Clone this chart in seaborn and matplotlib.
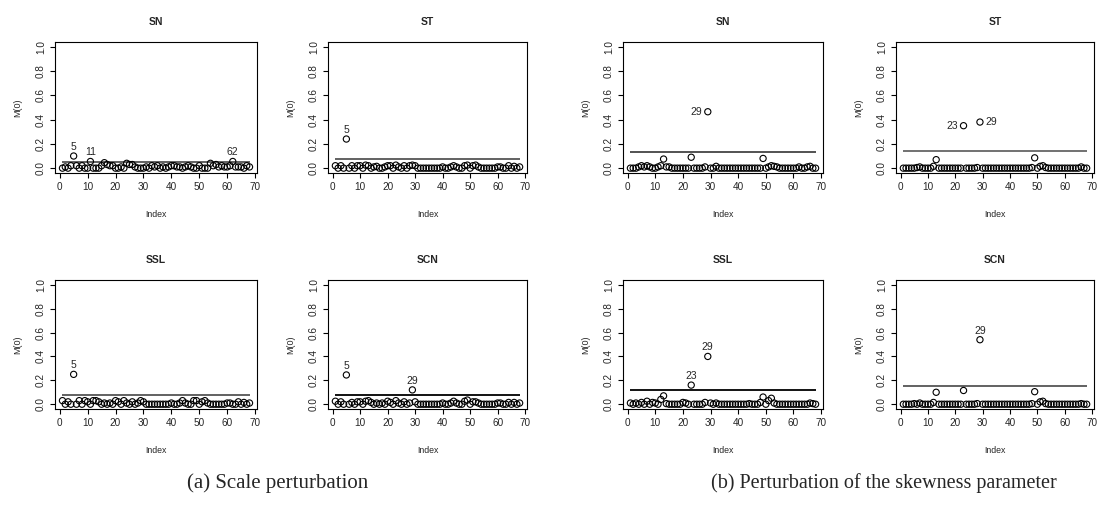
import numpy as np
import pandas as pd
import matplotlib
matplotlib.use('Agg')
import matplotlib.pyplot as plt
import seaborn as sns

sns.set_style('white')
plt.rcParams['font.family'] = ['Liberation Sans', 'DejaVu Sans']

# Данные: M(0) для 68 наблюдений в каждой панели
index = list(range(1, 69))

a_sn = [0.0, 0.01, 0.0, 0.02, 0.10, 0.02, 0.0, 0.02, 0.0, 0.0,
        0.055, 0.0, 0.0, 0.0, 0.02, 0.045, 0.03, 0.02, 0.02, 0.0,
        0.0, 0.01, 0.0, 0.04, 0.03, 0.03, 0.01, 0.0, 0.0, 0.0,
        0.01, 0.0, 0.02, 0.01, 0.02, 0.0, 0.01, 0.0, 0.01, 0.02,
        0.02, 0.01, 0.01, 0.0, 0.01, 0.02, 0.01, 0.0, 0.0, 0.02,
        0.0, 0.0, 0.0, 0.04, 0.02, 0.03, 0.01, 0.02, 0.01, 0.01,
        0.02, 0.055, 0.01, 0.01, 0.01, 0.0, 0.02, 0.01]
a_st = [0.02, 0.0, 0.02, 0.0, 0.24, 0.0, 0.02, 0.0, 0.02, 0.02,
        0.0, 0.025, 0.02, 0.0, 0.01, 0.015, 0.0, 0.0, 0.01, 0.02,
        0.02, 0.0, 0.025, 0.01, 0.0, 0.02, 0.0, 0.02, 0.025, 0.02,
        0.0, 0.0, 0.0, 0.0, 0.0, 0.0, 0.0, 0.0, 0.0, 0.01,
        0.0, 0.0, 0.01, 0.02, 0.01, 0.0, 0.0, 0.02, 0.025, 0.0,
        0.02, 0.025, 0.01, 0.0, 0.0, 0.0, 0.0, 0.0, 0.0, 0.01,
        0.01, 0.0, 0.0, 0.02, 0.0, 0.015, 0.0, 0.01]
a_ssl = [0.03, 0.0, 0.02, 0.0, 0.25, 0.0, 0.03, 0.0, 0.03, 0.02,
         0.0, 0.03, 0.03, 0.02, 0.0, 0.01, 0.0, 0.01, 0.0, 0.03,
         0.02, 0.0, 0.03, 0.01, 0.0, 0.02, 0.0, 0.01, 0.03, 0.02,
         0.0, 0.0, 0.0, 0.0, 0.0, 0.0, 0.0, 0.0, 0.0, 0.01,
         0.0, 0.0, 0.01, 0.03, 0.01, 0.0, 0.0, 0.03, 0.03, 0.0,
         0.02, 0.03, 0.01, 0.0, 0.0, 0.0, 0.0, 0.0, 0.0, 0.01,
         0.01, 0.0, 0.0, 0.02, 0.0, 0.015, 0.0, 0.01]
a_scn = [0.025, 0.0, 0.02, 0.0, 0.245, 0.0, 0.015, 0.0, 0.02, 0.02,
         0.0, 0.025, 0.03, 0.015, 0.0, 0.01, 0.0, 0.01, 0.0, 0.025,
         0.015, 0.0, 0.03, 0.01, 0.0, 0.02, 0.0, 0.01, 0.12, 0.02,
         0.0, 0.0, 0.0, 0.0, 0.0, 0.0, 0.0, 0.0, 0.0, 0.01,
         0.0, 0.0, 0.01, 0.025, 0.01, 0.0, 0.0, 0.025, 0.035, 0.0,
         0.02, 0.02, 0.01, 0.0, 0.0, 0.0, 0.0, 0.0, 0.0, 0.01,
         0.01, 0.0, 0.0, 0.015, 0.0, 0.015, 0.0, 0.01]

b_sn = [0.0, 0.0, 0.0, 0.01, 0.02, 0.01, 0.02, 0.01, 0.0, 0.0,
        0.01, 0.02, 0.075, 0.01, 0.01, 0.0, 0.0, 0.0, 0.0, 0.0,
        0.0, 0.0, 0.09, 0.0, 0.0, 0.0, 0.0, 0.01, 0.465, 0.0,
        0.0, 0.015, 0.0, 0.0, 0.0, 0.0, 0.0, 0.0, 0.0, 0.0,
        0.0, 0.0, 0.0, 0.0, 0.0, 0.0, 0.0, 0.0, 0.08, 0.0,
        0.01, 0.02, 0.015, 0.01, 0.0, 0.0, 0.0, 0.0, 0.0, 0.0,
        0.0, 0.01, 0.0, 0.0, 0.01, 0.015, 0.0, 0.0]
b_st = [0.0, 0.0, 0.0, 0.0, 0.0, 0.005, 0.01, 0.0, 0.0, 0.0,
        0.0, 0.015, 0.07, 0.0, 0.0, 0.0, 0.0, 0.0, 0.0, 0.0,
        0.0, 0.0, 0.35, 0.0, 0.0, 0.0, 0.0, 0.005, 0.38, 0.0,
        0.0, 0.0, 0.0, 0.0, 0.0, 0.0, 0.0, 0.0, 0.0, 0.0,
        0.0, 0.0, 0.0, 0.0, 0.0, 0.0, 0.0, 0.005, 0.085, 0.0,
        0.015, 0.02, 0.005, 0.0, 0.0, 0.0, 0.0, 0.0, 0.0, 0.0,
        0.0, 0.0, 0.0, 0.0, 0.0, 0.01, 0.0, 0.0]
b_ssl = [0.01, 0.0, 0.01, 0.0, 0.015, 0.0, 0.025, 0.0, 0.015, 0.01,
         0.0, 0.04, 0.07, 0.005, 0.0, 0.0, 0.0, 0.0, 0.0, 0.015,
         0.01, 0.0, 0.16, 0.0, 0.0, 0.0, 0.0, 0.015, 0.40, 0.01,
         0.0, 0.01, 0.0, 0.0, 0.0, 0.0, 0.0, 0.0, 0.0, 0.0,
         0.0, 0.0, 0.0, 0.005, 0.0, 0.0, 0.0, 0.015, 0.06, 0.0,
         0.03, 0.05, 0.01, 0.0, 0.0, 0.0, 0.0, 0.0, 0.0, 0.0,
         0.0, 0.0, 0.0, 0.0, 0.0, 0.01, 0.005, 0.0]
b_scn = [0.0, 0.0, 0.0, 0.0, 0.005, 0.0, 0.01, 0.0, 0.0, 0.0,
         0.0, 0.015, 0.10, 0.0, 0.0, 0.0, 0.0, 0.0, 0.0, 0.0,
         0.0, 0.0, 0.115, 0.0, 0.0, 0.0, 0.0, 0.005, 0.54, 0.0,
         0.0, 0.0, 0.0, 0.0, 0.0, 0.0, 0.0, 0.0, 0.0, 0.0,
         0.0, 0.0, 0.0, 0.0, 0.0, 0.0, 0.0, 0.005, 0.105, 0.0,
         0.02, 0.025, 0.005, 0.0, 0.0, 0.0, 0.0, 0.0, 0.0, 0.0,
         0.0, 0.0, 0.0, 0.0, 0.0, 0.005, 0.0, 0.0]

# Пороговые значения и подписанные наблюдения
thresholds = [0.05, 0.075, 0.08, 0.08, 0.13, 0.14, 0.12, 0.15]
titles = ['SN', 'ST', 'SSL', 'SCN', 'SN', 'ST', 'SSL', 'SCN']
series = [a_sn, a_st, a_ssl, a_scn, b_sn, b_st, b_ssl, b_scn]
labels = [
    {5: 'top', 11: 'top', 62: 'top'},
    {5: 'top'},
    {5: 'top'},
    {5: 'top', 29: 'top'},
    {29: 'left'},
    {23: 'left', 29: 'right'},
    {23: 'top', 29: 'top'},
    {29: 'top'},
]
line_colors = ['#555555', '#555555', '#555555', '#000000',
               '#444444', '#666666', '#000000', '#555555']

W, H = 1099, 515
# Положение осей в пикселях
col_px = [(55, 257), (328, 527), (623, 823), (896, 1094)]
row_px = [(42, 173), (280, 409)]
# порядок панелей: a-SN, a-ST, a-SSL, a-SCN, b-SN, b-ST, b-SSL, b-SCN
panel_pos = [(0, 0), (0, 1), (1, 0), (1, 1), (0, 2), (0, 3), (1, 2), (1, 3)]

fig = plt.figure(figsize=(W / 100, H / 100), dpi=100)

for k in range(8):
    r, c = panel_pos[k]
    x0, x1 = col_px[c]
    y0, y1 = row_px[r]
    ax = fig.add_axes([x0 / W, 1 - y1 / H, (x1 - x0) / W, (y1 - y0) / H])
    df = pd.DataFrame({'Index': index, 'M0': series[k]})

    ax.hlines(thresholds[k], 1, 68, color=line_colors[k], linewidth=1.3, zorder=1)
    sns.scatterplot(data=df, x='Index', y='M0', ax=ax, marker='o', s=20,
                    facecolor='none', edgecolor='black', linewidth=0.8, zorder=2)

    for i, pos in labels[k].items():
        v = series[k][i - 1]
        if pos == 'top':
            ax.annotate(str(i), (i, v), xytext=(0, 3), textcoords='offset points',
                        ha='center', va='bottom', fontsize=7.5)
        elif pos == 'left':
            ax.annotate(str(i), (i, v), xytext=(-4, 0), textcoords='offset points',
                        ha='right', va='center', fontsize=7.5)
        else:
            ax.annotate(str(i), (i, v), xytext=(4, 0), textcoords='offset points',
                        ha='left', va='center', fontsize=7.5)

    ax.set_xlim(-1.68, 70.68)
    ax.set_ylim(-0.04, 1.04)
    ax.set_xticks(np.arange(0, 71, 10))
    ax.set_yticks(np.arange(0, 1.01, 0.2))
    ax.set_yticklabels([f'{t:.1f}' for t in np.arange(0, 1.01, 0.2)],
                       rotation=90, va='center')
    ax.tick_params(axis='both', direction='out', length=3.5, width=0.8,
                   labelsize=7.2, color='black', pad=3, left=True, bottom=True)
    for s in ax.spines.values():
        s.set_color('black')
        s.set_linewidth(0.8)
    ax.set_title(titles[k], fontsize=7.5, fontweight='bold', pad=12)
    ax.set_xlabel('Index', fontsize=6.3, labelpad=13)
    ax.set_ylabel('M(0)', fontsize=6.5, labelpad=10)

# Подписи групп
fig.text(278 / W, 1 - 483 / H, '(a) Scale perturbation', ha='center', va='center',
         fontsize=15, family=['Liberation Serif', 'DejaVu Serif'])
fig.text(884 / W, 1 - 483 / H, '(b) Perturbation of the skewness parameter',
         ha='center', va='center', fontsize=14.5,
         family=['Liberation Serif', 'DejaVu Serif'])

fig.savefig('out.png', dpi=100)
